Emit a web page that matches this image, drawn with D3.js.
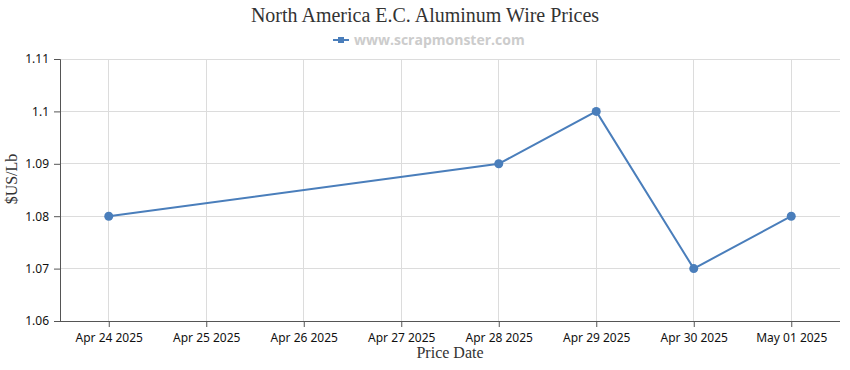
<!DOCTYPE html>
<html><head><meta charset="utf-8">
<script src="https://cdn.jsdelivr.net/npm/d3@7"></script>
<style>body{margin:0;background:#fff}</style>
</head><body>
<svg id="chart" width="850" height="370"></svg>
<script>
const dates = ["2025-04-24","2025-04-28","2025-04-29","2025-04-30","2025-05-01"];
const prices = [1.08, 1.09, 1.10, 1.07, 1.08];
const yTicks = [1.06, 1.07, 1.08, 1.09, 1.10, 1.11];
const tickDates = ["2025-04-24","2025-04-25","2025-04-26","2025-04-27","2025-04-28","2025-04-29","2025-04-30","2025-05-01"];
const title = "North America E.C. Aluminum Wire Prices";
const legendLabel = "www.scrapmonster.com";

const parse = d3.utcParse("%Y-%m-%d");
const fmt = d3.utcFormat("%b %d %Y");
const svg = d3.select("#chart");
const L = 60, R = 840, T = 59, B = 321;
const x = d3.scaleUtc()
  .domain([d3.utcHour.offset(parse(tickDates[0]), -12), d3.utcHour.offset(parse(tickDates[tickDates.length-1]), 12)])
  .range([L, R]);
const y = d3.scaleLinear().domain([1.06, 1.11]).range([B, T]);
const color = "#4a7ebb";

// gridlines
svg.append("g").selectAll("line.h").data(yTicks).join("line")
  .attr("x1", L).attr("x2", R).attr("y1", d => y(d)).attr("y2", d => y(d))
  .attr("stroke", "#dcdcdc").attr("stroke-width", 1).attr("shape-rendering","crispEdges");
svg.append("g").selectAll("line.v").data(tickDates).join("line")
  .attr("x1", d => x(parse(d))).attr("x2", d => x(parse(d))).attr("y1", T).attr("y2", B)
  .attr("stroke", "#dcdcdc").attr("stroke-width", 1).attr("shape-rendering","crispEdges");

// axes
const xa = svg.append("g").attr("transform", `translate(0,${B})`)
  .call(d3.axisBottom(x).tickValues(tickDates.map(parse)).tickFormat(fmt).tickSizeOuter(0).tickSize(6).tickPadding(6));
const ya = svg.append("g").attr("transform", `translate(${L},0)`)
  .call(d3.axisLeft(y).tickValues(yTicks).tickFormat(d => d3.format("")(+d.toFixed(2))).tickSizeOuter(0).tickSize(6).tickPadding(5));
[xa, ya].forEach(a => {
  a.select(".domain").attr("stroke", "#555");
  a.selectAll(".tick line").attr("stroke", "#555");
  a.selectAll("text").attr("fill", "#111").style("font-family", "'Noto Sans', sans-serif").style("font-size", "12px");
});
xa.select(".domain").attr("d", `M${L},0.5H${R}`);

// line + points
const data = dates.map((d, i) => ({d: parse(d), v: prices[i]}));
svg.append("path").datum(data)
  .attr("fill", "none").attr("stroke", color).attr("stroke-width", 2)
  .attr("d", d3.line().x(p => x(p.d)).y(p => y(p.v)));
svg.append("g").selectAll("circle").data(data).join("circle")
  .attr("cx", p => x(p.d)).attr("cy", p => y(p.v)).attr("r", 4.5).attr("fill", color);

// title
svg.append("text").attr("x", 425).attr("y", 22).attr("text-anchor", "middle")
  .style("font-family", "'Liberation Serif', serif").style("font-size", "20px").attr("fill", "#333").text(title);

// legend
const lg = svg.append("g").attr("transform", "translate(333,40)");
lg.append("line").attr("x1", 0).attr("x2", 16).attr("y1", 0).attr("y2", 0).attr("stroke", color).attr("stroke-width", 2);
lg.append("rect").attr("x", 5).attr("y", -3).attr("width", 6).attr("height", 6).attr("fill", color);
lg.append("text").attr("x", 21).attr("y", 5)
  .style("font-family", "'Open Sans', sans-serif").style("font-size", "14px").style("font-weight", "bold")
  .attr("fill", "#cccccc").text(legendLabel);

// axis titles
svg.append("text").attr("x", 450).attr("y", 358).attr("text-anchor", "middle")
  .style("font-family", "'Liberation Serif', serif").style("font-size", "16px").attr("fill", "#333").text("Price Date");
svg.append("text").attr("transform", "translate(17,179) rotate(-90)").attr("text-anchor", "middle")
  .style("font-family", "'Liberation Serif', serif").style("font-size", "16px").attr("fill", "#333").text("$US/Lb");
</script>
</body></html>
